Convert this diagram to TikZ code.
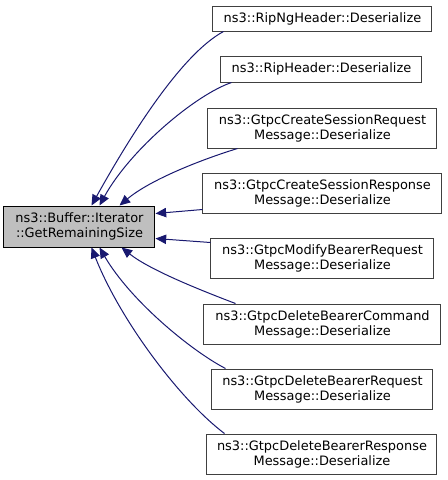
\documentclass[tikz,border=0pt]{standalone}
\usepackage{fontspec}
\setmainfont{DejaVu Sans}
\usetikzlibrary{arrows.meta,calc}
\definecolor{edgeblue}{HTML}{191970}
\definecolor{boxline}{HTML}{404040}
\definecolor{rootfill}{HTML}{BFBFBF}
\begin{document}
\begin{tikzpicture}[x=0.75pt,y=-0.75pt,
  fn/.style={draw=boxline,line width=0.75pt,fill=white,inner sep=0pt,align=center,
    font=\fontsize{9.7}{11.3}\selectfont},
  rootbox/.style={fn,fill=rootfill,draw=black},
  edge/.style={draw=edgeblue,line width=0.75pt,-{Triangle[length=8pt,width=7pt]}}]
\useasboundingbox (0,0) rectangle (448,480);
\node[rootbox,minimum width=113.25pt,minimum height=30.75pt] (root) at (79.5,226.5) {ns3::Buffer::Iterator\\::GetRemainingSize};
\node[fn,minimum width=164.25pt,minimum height=18.75pt] (ripng) at (322.5,18.5) {ns3::RipNgHeader::Deserialize};
\node[fn,minimum width=150.75pt,minimum height=19.5pt] (riph) at (321.5,69) {ns3::RipHeader::Deserialize};
\node[fn,minimum width=171.75pt,minimum height=30pt] (csreq) at (322.5,128) {ns3::GtpcCreateSessionRequest\\Message::Deserialize};
\node[fn,minimum width=179.25pt,minimum height=30pt] (csresp) at (322.5,193) {ns3::GtpcCreateSessionResponse\\Message::Deserialize};
\node[fn,minimum width=167.25pt,minimum height=30pt] (modb) at (322.5,258) {ns3::GtpcModifyBearerRequest\\Message::Deserialize};
\node[fn,minimum width=177.75pt,minimum height=30pt] (dbc) at (322.5,324) {ns3::GtpcDeleteBearerCommand\\Message::Deserialize};
\node[fn,minimum width=165.75pt,minimum height=30pt] (dbreq) at (322.5,389) {ns3::GtpcDeleteBearerRequest\\Message::Deserialize};
\node[fn,minimum width=172.5pt,minimum height=30pt] (dbresp) at (322,454) {ns3::GtpcDeleteBearerResponse\\Message::Deserialize};
\draw[edge] ($(ripng.south west)+(11,0)$) .. controls (180,55) and (128,140) .. ($(root.north west)+(88,0)$);
\draw[edge] ($(riph.south west)+(11,0)$) .. controls (195,95) and (130,150) .. ($(root.north west)+(96,0)$);
\draw[edge] ($(csreq.south west)+(30,0)$) .. controls (200,160) and (150,180) .. ($(root.north west)+(116,0)$);
\draw[edge] ($(csresp.south west)+(0,-4)$) -- ($(root.north east)+(0,8)$);
\draw[edge] ($(modb.north west)+(0,5)$) -- ($(root.south east)+(0,-9)$);
\draw[edge] ($(dbc.north west)+(32,0)$) .. controls (200,290) and (150,270) .. ($(root.south west)+(118,0)$);
\draw[edge] ($(dbreq.north west)+(14,0)$) .. controls (190,350) and (130,300) .. ($(root.south west)+(96,0)$);
\draw[edge] ($(dbresp.north west)+(18,0)$) .. controls (180,400) and (120,320) .. ($(root.south west)+(88,0)$);
\end{tikzpicture}
\end{document}
